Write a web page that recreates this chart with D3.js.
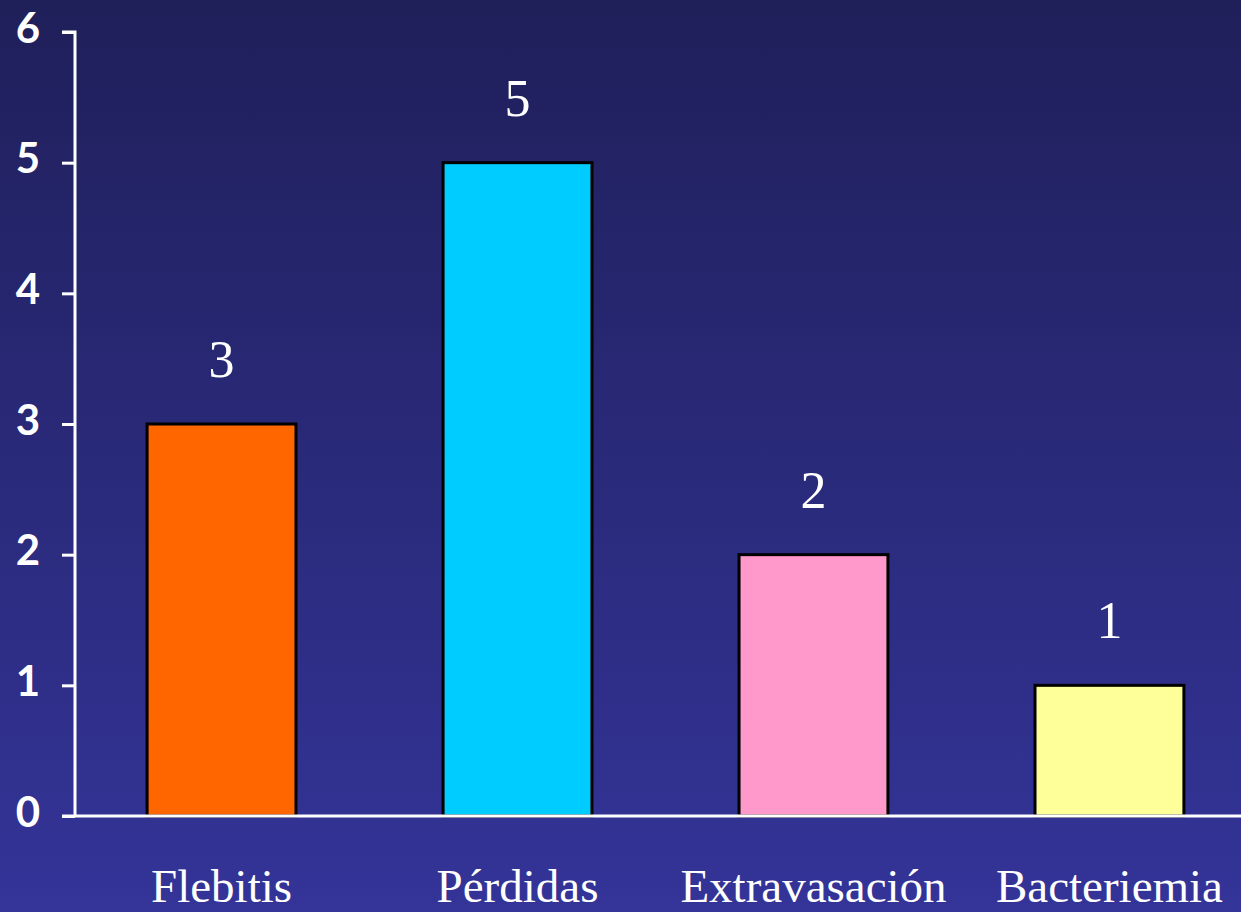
<!DOCTYPE html>
<html><head><meta charset="utf-8">
<script src="https://cdn.jsdelivr.net/npm/d3@7"></script>
<style>html,body{margin:0;padding:0;overflow:hidden;background:#2a2a80}</style>
</head><body>
<script>
const categories = ["Flebitis", "Pérdidas", "Extravasación", "Bacteriemia"];
const values = [3, 5, 2, 1];
const colors = ["#ff6600", "#00ccff", "#ff99cc", "#ffff99"];
const yTicks = [0, 1, 2, 3, 4, 5, 6];

const W = 1241, H = 912;
const svg = d3.select("body").append("svg").attr("width", W).attr("height", H);
const defs = svg.append("defs");
const g = defs.append("linearGradient").attr("id","bg").attr("x1",0).attr("y1",0).attr("x2",0).attr("y2",1);
g.append("stop").attr("offset","0%").attr("stop-color","#1f1f5a");
g.append("stop").attr("offset","100%").attr("stop-color","#343499");
svg.append("rect").attr("width",W).attr("height",H).attr("fill","url(#bg)");

const y = d3.scaleLinear().domain([0, 6]).range([816, 32]);
const x = d3.scaleBand().domain(categories).range([74, 1257]).paddingInner(0.497).paddingOuter(0.247);

// bars
svg.selectAll("rect.bar").data(values).join("rect").attr("class","bar")
  .attr("x",(d,i)=>x(categories[i]))
  .attr("y",d=>y(d))
  .attr("width",x.bandwidth())
  .attr("height",d=>y(0)-y(d))
  .attr("fill",(d,i)=>colors[i])
  .attr("stroke","#000").attr("stroke-width",3);

// value labels
svg.selectAll("text.val").data(values).join("text").attr("class","val")
  .attr("x",(d,i)=>x(categories[i])+x.bandwidth()/2)
  .attr("y",d=>y(d)-47)
  .attr("text-anchor","middle")
  .attr("fill","#fff")
  .attr("font-family","'Liberation Serif', serif")
  .attr("font-size",52)
  .text(d=>d);

// y axis
const yAxis = d3.axisLeft(y).tickValues(yTicks).tickSize(13).tickPadding(22).tickFormat(d3.format("d"));
const ya = svg.append("g").attr("transform","translate(75,0)").call(yAxis);
ya.select(".domain").attr("stroke","#fff").attr("stroke-width",3).attr("d","M-13,32H0V816");
ya.selectAll(".tick line").attr("stroke","#fff").attr("stroke-width",3);
ya.selectAll(".tick text").attr("fill","#fff").attr("font-family","Lato, sans-serif").attr("font-weight","bold").attr("font-size",42).attr("dy","0.24em");

// x axis
const xAxis = d3.axisBottom(x).tickSize(0).tickPadding(0);
const xa = svg.append("g").attr("transform","translate(0,816)").call(xAxis);
xa.select(".domain").attr("stroke","#fff").attr("stroke-width",3).attr("d","M62,0H1241");
xa.selectAll(".tick text").attr("fill","#fff").attr("font-family","'Liberation Serif', serif").attr("font-size",47).attr("dy",0).attr("y",86);
</script>
</body></html>
